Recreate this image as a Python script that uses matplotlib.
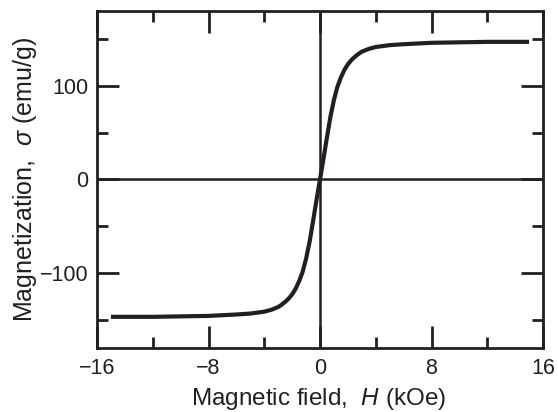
import matplotlib
matplotlib.use("Agg")
import matplotlib.pyplot as plt
from matplotlib.ticker import MultipleLocator

plt.rcParams['font.family'] = ['Liberation Sans', 'DejaVu Sans']
plt.rcParams['mathtext.fontset'] = 'custom'
plt.rcParams['mathtext.it'] = 'Liberation Sans:italic'
plt.rcParams['mathtext.rm'] = 'Liberation Sans'

# Magnetic field H (kOe) and magnetization sigma (emu/g)
field_h = [-15.0, -12.0, -10.0, -8.0, -6.0, -5.0, -4.0, -3.5, -3.0, -2.75, -2.5, -2.25, -2.0,
           -1.75, -1.5, -1.25, -1.0, -0.75, -0.5, -0.25, 0.0,
           0.25, 0.5, 0.75, 1.0, 1.25, 1.5, 1.75, 2.0, 2.25, 2.5, 2.75, 3.0, 3.5, 4.0,
           5.0, 6.0, 8.0, 10.0, 12.0, 15.0]
sigma = [-147.0, -147.0, -146.5, -146.0, -144.5, -143.5, -141.5, -139.5, -136.5, -134.0, -131.0, -127.5, -123.0,
         -117.0, -109.0, -99.0, -85.0, -67.0, -45.0, -22.0, 0.0,
         22.0, 45.0, 67.0, 85.0, 99.0, 109.0, 117.0, 123.0, 127.5, 131.0, 134.0, 136.5, 139.5, 141.5,
         143.5, 144.5, 146.0, 146.5, 147.0, 147.0]

x_ticks = [-16, -8, 0, 8, 16]
y_ticks = [-100, 0, 100]

fig = plt.figure(figsize=(5.58, 4.12), dpi=100)
ax = fig.add_axes([97/558, 1-347.7/412, (543-97)/558, (347.7-11)/412])

ax.axhline(0, color='#231f20', lw=1.8, zorder=1)
ax.axvline(0, color='#231f20', lw=1.8, zorder=1)
ax.plot(field_h, sigma, color='#231f20', lw=3.0, solid_capstyle='butt',
        solid_joinstyle='round', zorder=3)

ax.set_xlim(-16, 16)
ax.set_ylim(-180, 180)
ax.set_xticks(x_ticks)
ax.set_yticks(y_ticks)
ax.xaxis.set_minor_locator(MultipleLocator(4))
ax.yaxis.set_minor_locator(MultipleLocator(50))
ax.tick_params(which='both', direction='in', top=True, right=True, color='#231f20',
               width=2.0, labelsize=15.5, labelcolor='#231f20')
ax.tick_params(which='major', length=16)
ax.tick_params(which='minor', length=8)
ax.tick_params(axis='x', which='major', pad=7.5)
ax.tick_params(axis='y', which='major', pad=6)
for s in ax.spines.values():
    s.set_linewidth(2.0)
    s.set_color('#231f20')

ax.set_xlabel(r'Magnetic field,  $H$ (kOe)', fontsize=17.5, color='#231f20')
ax.xaxis.set_label_coords(319/558, 0.0, transform=fig.transFigure)
ax.xaxis.label.set_va('bottom')
ax.set_ylabel(r'Magnetization,  $\sigma$ (emu/g)', fontsize=18, color='#231f20', labelpad=1)

fig.savefig('out.png', dpi=100)
